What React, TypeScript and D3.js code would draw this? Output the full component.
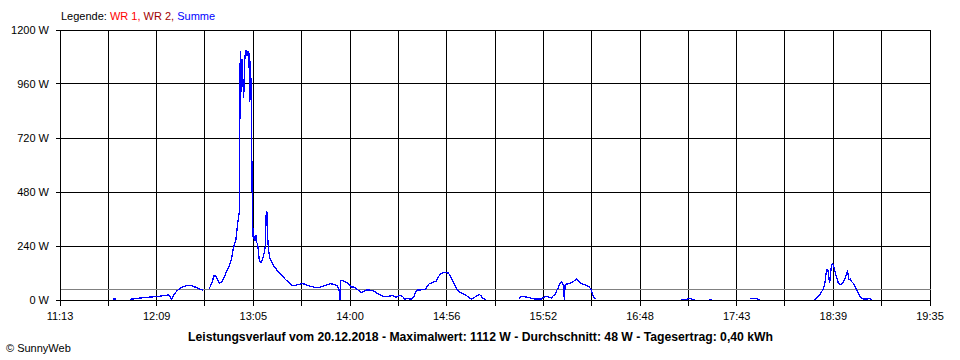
import React from "react";
import * as d3 from "d3";

const legendItems = [
  { label: "WR 1", color: "#ff0000" },
  { label: "WR 2", color: "#a00000" },
  { label: "Summe", color: "#0000ff" },
];

const yTicks = [0, 240, 480, 720, 960, 1200];
const xTickLabels = ["11:13", "12:09", "13:05", "14:00", "14:56", "15:52", "16:48", "17:43", "18:39", "19:35"];
const startTime = "11:13";
const endTime = "19:35";
const gridDivisions = 18;
const averageW = 48;
const title = "Leistungsverlauf vom 20.12.2018 - Maximalwert: 1112 W - Durchschnitt: 48 W - Tagesertrag: 0,40 kWh";
const footer = "© SunnyWeb";

// Summe (W); null marks a gap in the record
const times: string[] = [
  "11:43:30", "11:45:30", "11:49:00",
  "11:53:30", "11:57:30", "12:03:00", "12:09:00", "12:13:30", "12:15:30", "12:16:30", "12:17:30", "12:18:30",
  "12:20:30", "12:23:00", "12:26:00", "12:29:00", "12:31:30", "12:34:00", "12:35:30", "12:37:00",
  "12:39:00", "12:40:30", "12:42:00", "12:43:00", "12:44:30", "12:45:00", "12:46:30", "12:47:30", "12:49:00",
  "12:50:30", "12:52:00", "12:53:00", "12:54:30", "12:55:30", "12:56:30", "12:57:00", "12:57:30", "12:58:00",
  "12:58:30", "12:59:00", "12:59:30", "13:00:00", "13:00:30", "13:01:00", "13:01:30", "13:02:00", "13:02:30",
  "13:03:00", "13:03:30", "13:04:00", "13:04:30", "13:05:00", "13:05:30", "13:06:00", "13:06:30", "13:07:00",
  "13:07:30", "13:08:00", "13:08:30", "13:09:00", "13:09:30", "13:10:00", "13:10:30", "13:11:00", "13:11:30",
  "13:12:00", "13:12:30", "13:13:00", "13:13:30", "13:14:00", "13:15:00", "13:16:00", "13:17:30", "13:19:00",
  "13:21:00", "13:23:00", "13:25:00", "13:27:00", "13:29:00", "13:31:00", "13:33:00", "13:35:00", "13:37:00",
  "13:39:00", "13:41:00", "13:43:00", "13:45:00", "13:47:00", "13:49:00", "13:51:00", "13:53:00", "13:54:00",
  "13:54:30", "13:55:00", "13:56:00", "13:57:00", "13:58:00", "13:59:00", "14:00:00", "14:01:00", "14:02:30",
  "14:04:00", "14:05:00", "14:06:00", "14:07:00", "14:08:00", "14:09:00", "14:10:00", "14:11:30", "14:13:30",
  "14:15:00", "14:16:00", "14:17:00", "14:18:30", "14:20:00", "14:22:00", "14:24:00", "14:25:30", "14:27:00",
  "14:28:30", "14:30:00", "14:31:00", "14:32:00", "14:33:30", "14:35:00", "14:36:00", "14:37:00", "14:38:00",
  "14:39:00", "14:41:00", "14:43:00", "14:44:00", "14:45:00", "14:46:00", "14:48:00", "14:50:00", "14:51:00",
  "14:52:00", "14:53:00", "14:55:00", "14:57:00", "14:58:00", "14:59:00", "15:00:00", "15:01:00", "15:02:00",
  "15:03:00", "15:04:00", "15:06:00", "15:07:30", "15:09:00", "15:10:30", "15:12:00", "15:13:30", "15:15:00",
  "15:16:00", "15:17:00", "15:18:00", "15:19:00", "15:25:00",
  "15:38:00", "15:38:30", "15:39:30", "15:41:00", "15:43:00", "15:45:00", "15:47:00", "15:49:00", "15:51:00",
  "15:52:00", "15:53:00", "15:54:30", "15:55:30", "15:56:30", "15:57:30", "15:58:30", "15:59:30", "16:00:30",
  "16:01:30", "16:02:00", "16:02:30", "16:03:00", "16:03:30", "16:04:00", "16:04:30", "16:05:30", "16:06:30",
  "16:07:30", "16:08:30", "16:09:30", "16:10:30", "16:11:00", "16:12:00", "16:13:00", "16:14:00", "16:15:30",
  "16:17:00", "16:18:30", "16:19:30", "16:20:30", "16:21:00", "16:22:00", "16:30:00",
  "17:03:00", "17:03:30", "17:05:00",
  "17:11:30", "17:14:30", "17:16:00", "17:17:00", "17:17:30", "17:19:30", "17:21:00",
  "17:27:30", "17:29:00", "17:35:00",
  "17:51:30", "17:52:00", "17:55:00", "17:55:30", "17:57:00", "18:10:00",
  "18:28:30", "18:30:00", "18:31:30", "18:32:30", "18:33:30", "18:34:00", "18:34:30", "18:35:00", "18:35:30",
  "18:36:00", "18:36:30", "18:37:00", "18:37:30", "18:38:00", "18:38:30", "18:39:00", "18:39:30", "18:40:00",
  "18:40:30", "18:41:00", "18:41:30", "18:42:00", "18:43:00", "18:44:00", "18:45:00", "18:46:00", "18:47:00",
  "18:47:30", "18:48:00", "18:48:30", "18:49:00", "18:50:00", "18:51:00", "18:52:00", "18:53:00", "18:54:00",
  "18:55:00", "18:56:30", "18:58:30", "19:00:00", "19:01:30",
];

const summe: (number | null)[] = [
  4, 4, null,
  3, 7, 12, 15, 21, 22, 15, 3, 22,
  41, 55, 64, 63, 56, 48, 44, null,
  48, 74, 110, 104, 80, 76, 82, 96, 126,
  148, 185, 230, 267, 341, 393, 1107, 926, 1070,
  975, 896, 1060, 1100, 1112, 1085, 1108, 1096, 881,
  1060, 780, 385, 270, 285, 262, 290, 255, 250,
  215, 175, 168, 166, 175, 185, 198, 215, 240,
  392, 390, 250, 215, 190, 170, 155, 140, 124,
  110, 92, 78, 65, 65, 70, 73, 68, 62,
  58, 55, 56, 62, 68, 72, 70, 62, 48,
  0, 85, 86, 82, 80, 75, 65, 58, 57,
  50, 44, 38, 34, 38, 42, 44, 44, 42,
  36, 30, 25, 20, 16, 15, 19, 18, 11,
  20, 18, 13, 4, 7, 4, 5, 12, 30,
  44, 45, 46, 50, 62, 72, 78, 84, 98,
  110, 118, 123, 120, 110, 96, 78, 62, 48,
  40, 33, 25, 20, 10, 4, 10, 20, 24,
  18, 8, 4, 1, null,
  3, 12, 15, 15, 11, 8, 4, 4, 5,
  11, 15, 15, 11, 9, 18, 22, 40, 55,
  72, 78, 80, 75, 62, 0, 70, 71, 72,
  75, 80, 84, 88, 92, 85, 76, 72, 69,
  65, 58, 44, 22, 12, 3, null,
  3, 3, null,
  3, 3, 8, 8, 3, 3, null,
  3, 3, null,
  4, 7, 7, 3, 3, null,
  1, 12, 25, 37, 52, 65, 82, 115, 135,
  135, 110, 75, 100, 145, 160, 158, 148, 130,
  118, 103, 90, 78, 68, 70, 78, 96, 120,
  128, 95, 90, 92, 80, 72, 55, 40, 25,
  12, 5, 4, 6, 1,
];

const toMin = (t: string) => {
  const p = t.split(":").map(Number);
  return p[0] * 60 + p[1] + (p[2] || 0) / 60;
};

const W = 960;
const H = 360;
const margin = { left: 60, right: 30, top: 30, bottom: 60 };
const FONT = "'Liberation Sans', Arial, sans-serif";

export default function App() {
  const t0 = toMin(startTime);
  const t1 = toMin(endTime);
  const x = d3.scaleLinear().domain([t0, t1]).range([margin.left, W - margin.right]);
  const y = d3.scaleLinear().domain([0, 1200]).range([H - margin.bottom, margin.top]);

  const data = times.map((t, i) => ({ t: toMin(t), w: summe[i] }));
  const line = d3
    .line<{ t: number; w: number | null }>()
    .defined((d) => d.w != null)
    .x((d) => x(d.t))
    .y((d) => y(d.w as number));

  const gridTimes = d3.range(gridDivisions + 1).map((i) => t0 + (i * (t1 - t0)) / gridDivisions);
  const px = (v: number) => Math.floor(v) + 0.5;
  const y0 = px(y(0));
  const yTop = px(y(1200));
  const xL = px(x(t0));
  const xR = px(x(t1));

  return (
    <svg
      width={W}
      height={H}
      style={{ position: "absolute", left: 0, top: 0, background: "#fff" }}
      fontFamily={FONT}
    >
      <rect x={0} y={0} width={W} height={H} fill="#fff" />
      {/* legend */}
      <text x={61} y={20} fontSize={11} fill="#000">
        <tspan>Legende: </tspan>
        {legendItems.map((it, i) => (
          <tspan key={it.label} fill={it.color}>
            {it.label}
            {i < legendItems.length - 1 ? ", " : ""}
          </tspan>
        ))}
      </text>

      {/* vertical grid + ticks */}
      {gridTimes.map((g, i) => (
        <line key={"vg" + i} x1={px(x(g))} x2={px(x(g))} y1={yTop} y2={y0 + 5} stroke="#000" strokeWidth={1} shapeRendering="crispEdges" />
      ))}
      {/* horizontal grid + ticks */}
      {yTicks.map((v) => (
        <line key={"hg" + v} x1={xL - 5} x2={xR} y1={px(y(v))} y2={px(y(v))} stroke="#000" strokeWidth={1} shapeRendering="crispEdges" />
      ))}

      {/* average line */}
      <line x1={xL} x2={xR} y1={px(y(averageW))} y2={px(y(averageW))} stroke="#808080" strokeWidth={1} shapeRendering="crispEdges" />

      {/* data */}
      <path d={line(data) || ""} fill="none" stroke="#0000ff" strokeWidth={1.3} shapeRendering="crispEdges" />

      {/* y labels */}
      {yTicks.map((v) => (
        <text key={"yl" + v} x={49} y={y(v) + 4} fontSize={11} textAnchor="end" fill="#000">
          {v} W
        </text>
      ))}
      {/* x labels */}
      {xTickLabels.map((l, i) => (
        <text key={"xl" + l} x={x(gridTimes[i * 2])} y={320} fontSize={11} textAnchor="middle" fill="#000">
          {l}
        </text>
      ))}

      <text x={480.5} y={341} fontSize={12} fontWeight="bold" textAnchor="middle" fill="#000" textLength={585} lengthAdjust="spacingAndGlyphs">
        {title}
      </text>
      <text x={6} y={352} fontSize={11} fill="#000">
        {footer}
      </text>
    </svg>
  );
}
